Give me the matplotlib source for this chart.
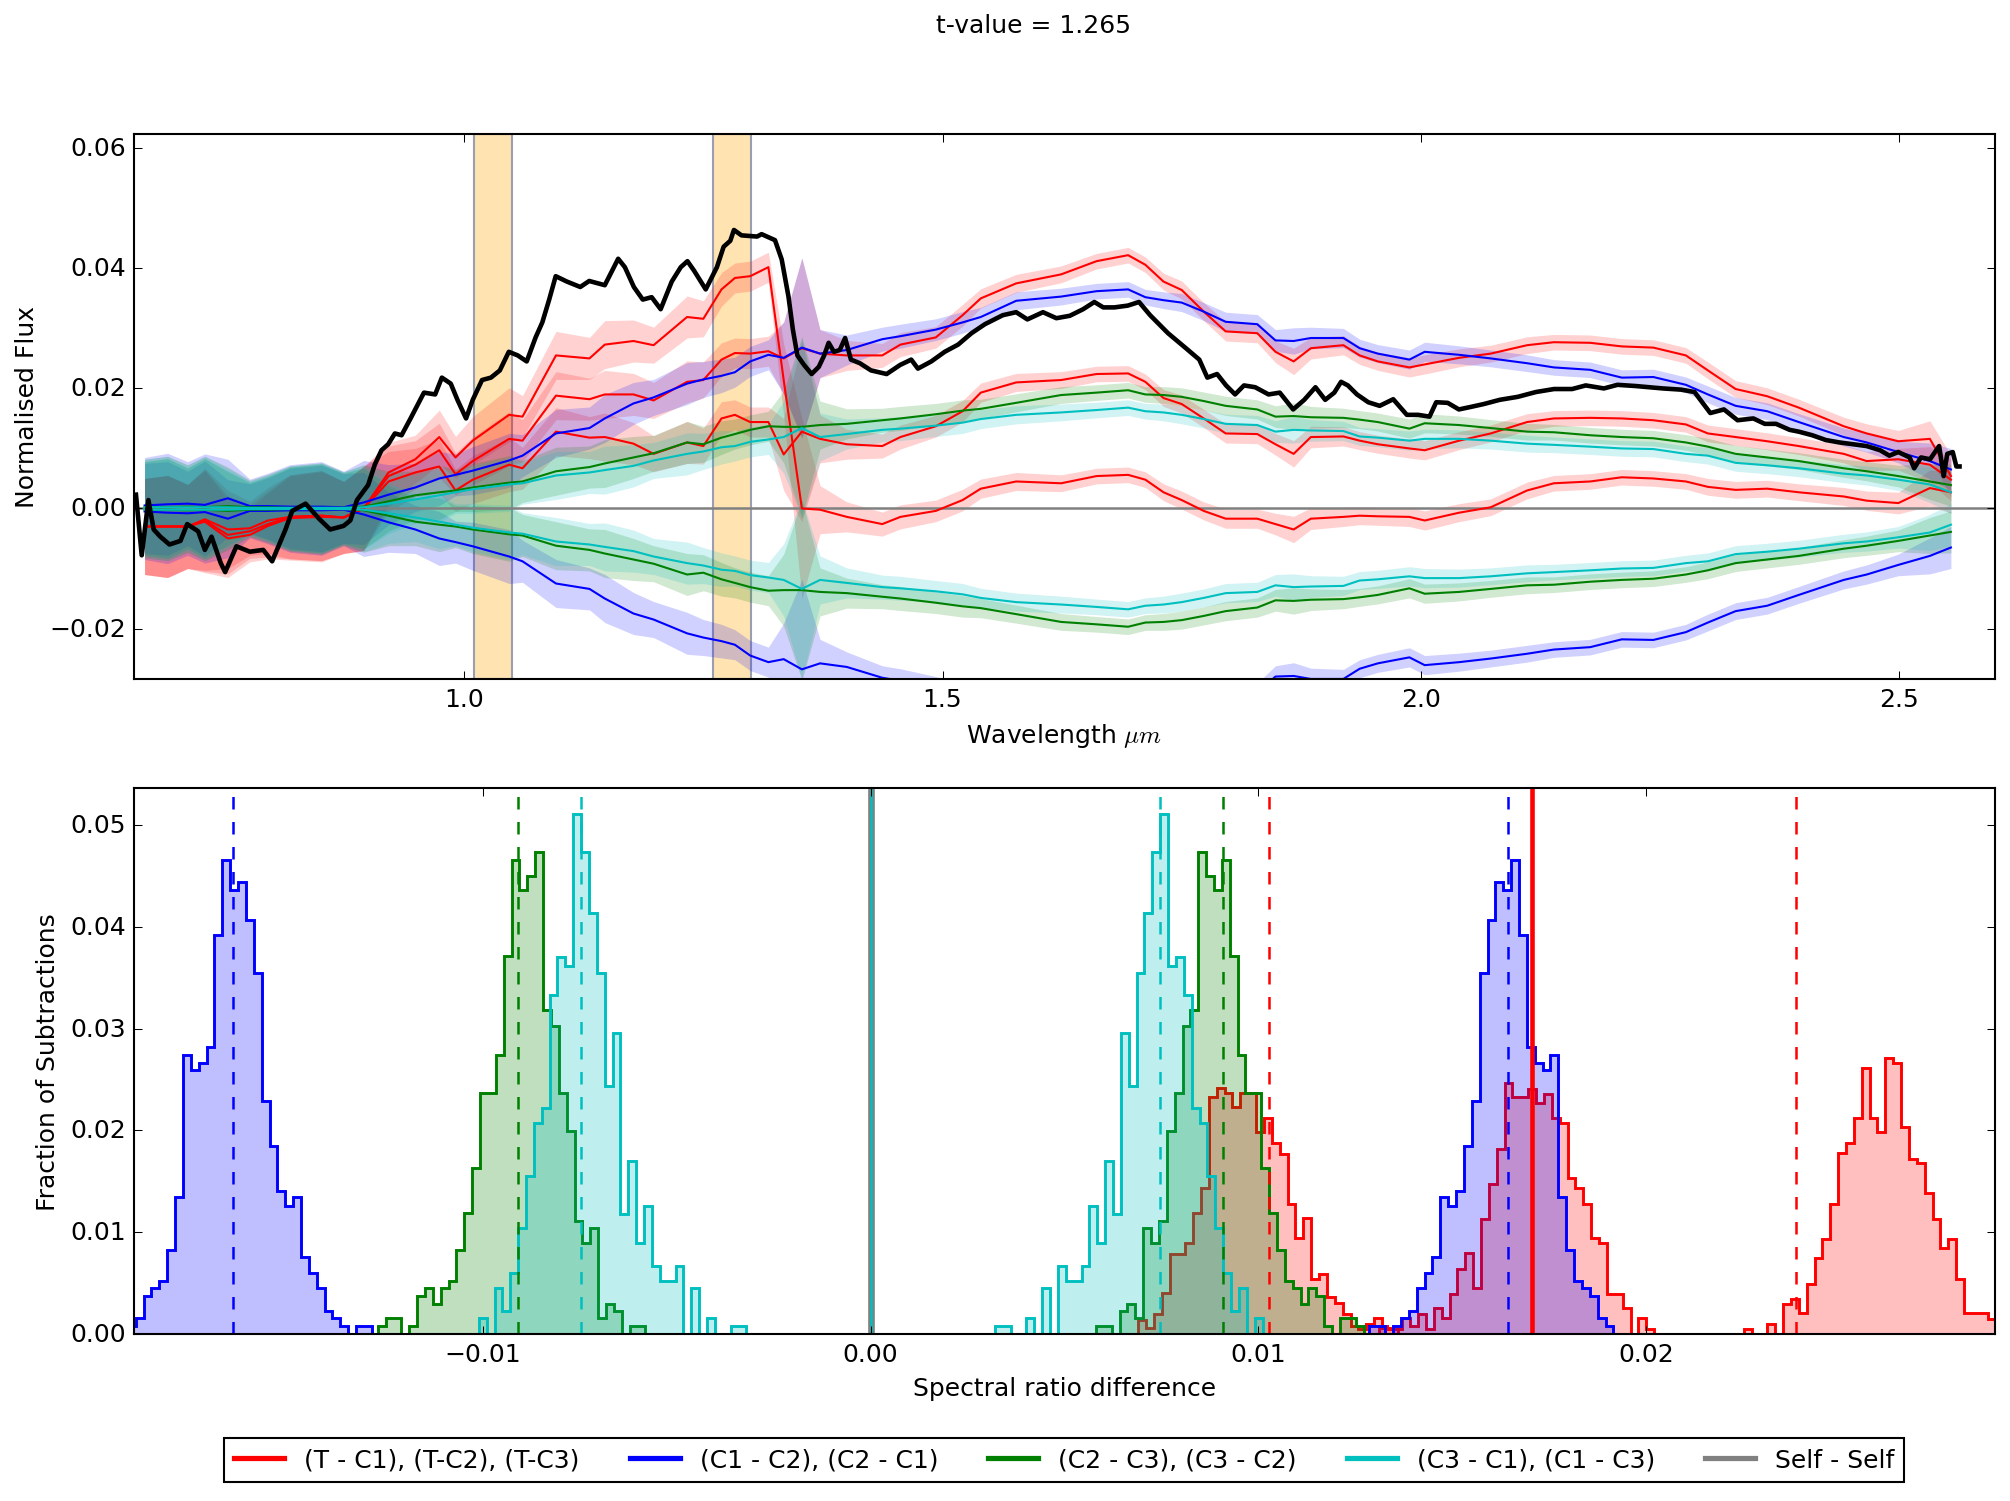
import numpy as np
import matplotlib
matplotlib.use("Agg")
import matplotlib.pyplot as plt
from matplotlib.lines import Line2D

plt.style.use('classic')
plt.rcParams['font.family'] = ['DejaVu Sans']
plt.rcParams['mathtext.fontset'] = 'cm'

t_value = 1.265

# ---------------- top panel: differences of normalised spectra ----------------
wl_grid = [0.666, 0.690, 0.711, 0.729, 0.753, 0.776, 0.795, 0.818, 0.851, 0.874,
           0.895, 0.921, 0.949, 0.974, 0.991, 1.009, 1.047, 1.061, 1.096, 1.131,
           1.147, 1.177, 1.198, 1.233, 1.250, 1.269, 1.283, 1.299, 1.318, 1.334,
           1.353, 1.372, 1.400, 1.437, 1.456, 1.493, 1.521, 1.540, 1.577, 1.624,
           1.661, 1.694, 1.712, 1.731, 1.750, 1.773, 1.796, 1.829, 1.848, 1.867,
           1.885, 1.919, 1.936, 1.955, 1.988, 2.004, 2.040, 2.073, 2.111, 2.139,
           2.177, 2.210, 2.243, 2.277, 2.300, 2.329, 2.362, 2.395, 2.442, 2.466,
           2.499, 2.532, 2.554]

# target minus comparison stars (three curves)
t_minus_a = [-0.0030, -0.0030, -0.0030, -0.0018, -0.0035, -0.0033, -0.0020, -0.0014, -0.0012, -0.0015,
             0.0000, 0.0060, 0.0082, 0.0119, 0.0085, 0.0113, 0.0156, 0.0153, 0.0255, 0.0250,
             0.0273, 0.0279, 0.0272, 0.0319, 0.0316, 0.0365, 0.0384, 0.0387, 0.0402, 0.0214,
             0.0000, -0.0002, -0.0014, -0.0026, -0.0014, -0.0004, 0.0014, 0.0033, 0.0045, 0.0042,
             0.0054, 0.0056, 0.0048, 0.0027, 0.0014, -0.0004, -0.0017, -0.0017, -0.0026, -0.0035,
             -0.0017, -0.0014, -0.0012, -0.0013, -0.0014, -0.0020, -0.0007, 0.0002, 0.0030, 0.0042,
             0.0045, 0.0052, 0.0050, 0.0045, 0.0036, 0.0031, 0.0033, 0.0027, 0.0020, 0.0013,
             0.0009, 0.0034, 0.0027]
t_minus_b = [-0.0030, -0.0030, -0.0030, -0.0020, -0.0044, -0.0038, -0.0026, -0.0014, -0.0012, -0.0015,
             0.0000, 0.0054, 0.0073, 0.0097, 0.0057, 0.0079, 0.0116, 0.0113, 0.0188, 0.0182,
             0.0190, 0.0190, 0.0180, 0.0211, 0.0214, 0.0248, 0.0259, 0.0258, 0.0262, 0.0250,
             0.0267, 0.0258, 0.0255, 0.0255, 0.0273, 0.0285, 0.0322, 0.0350, 0.0375, 0.0390,
             0.0412, 0.0422, 0.0406, 0.0378, 0.0364, 0.0328, 0.0295, 0.0292, 0.0261, 0.0245,
             0.0267, 0.0272, 0.0255, 0.0245, 0.0235, 0.0240, 0.0251, 0.0258, 0.0272, 0.0277,
             0.0276, 0.0270, 0.0268, 0.0255, 0.0230, 0.0199, 0.0187, 0.0168, 0.0137, 0.0125,
             0.0112, 0.0116, 0.0054]
t_minus_c = [-0.0030, -0.0030, -0.0030, -0.0022, -0.0050, -0.0044, -0.0029, -0.0016, -0.0014, -0.0015,
             0.0000, 0.0045, 0.0060, 0.0070, 0.0030, 0.0048, 0.0073, 0.0067, 0.0128, 0.0118,
             0.0119, 0.0108, 0.0091, 0.0110, 0.0104, 0.0150, 0.0156, 0.0144, 0.0144, 0.0090,
             0.0128, 0.0116, 0.0107, 0.0104, 0.0119, 0.0137, 0.0162, 0.0193, 0.0210, 0.0214,
             0.0224, 0.0225, 0.0211, 0.0184, 0.0174, 0.0150, 0.0125, 0.0124, 0.0107, 0.0091,
             0.0119, 0.0120, 0.0113, 0.0107, 0.0100, 0.0097, 0.0113, 0.0125, 0.0144, 0.0150,
             0.0151, 0.0150, 0.0147, 0.0140, 0.0125, 0.0119, 0.0112, 0.0104, 0.0091, 0.0079,
             0.0082, 0.0073, 0.0048]

# comparison pairs (the reversed pair is the negative)
c1_minus_c2 = [0.0005, 0.0007, 0.0008, 0.0006, 0.0017, 0.0004, 0.0004, 0.0003, 0.0003, 0.0002,
               0.0010, 0.0023, 0.0035, 0.0050, 0.0056, 0.0063, 0.0080, 0.0088, 0.0125, 0.0134,
               0.0150, 0.0175, 0.0185, 0.0208, 0.0215, 0.0221, 0.0227, 0.0245, 0.0256, 0.0251,
               0.0268, 0.0258, 0.0264, 0.0282, 0.0287, 0.0298, 0.0310, 0.0319, 0.0346, 0.0353,
               0.0362, 0.0365, 0.0352, 0.0347, 0.0343, 0.0328, 0.0311, 0.0307, 0.0280, 0.0279,
               0.0284, 0.0284, 0.0267, 0.0258, 0.0248, 0.0261, 0.0256, 0.0250, 0.0242, 0.0235,
               0.0231, 0.0218, 0.0219, 0.0206, 0.0190, 0.0171, 0.0162, 0.0144, 0.0119, 0.0110,
               0.0094, 0.0079, 0.0065]
c2_minus_c3 = [0.0002, 0.0002, 0.0003, 0.0002, 0.0004, 0.0002, 0.0002, 0.0001, 0.0001, 0.0001,
               0.0003, 0.0012, 0.0022, 0.0027, 0.0030, 0.0035, 0.0043, 0.0045, 0.0062, 0.0069,
               0.0075, 0.0085, 0.0092, 0.0110, 0.0107, 0.0118, 0.0124, 0.0131, 0.0137, 0.0136,
               0.0136, 0.0139, 0.0141, 0.0147, 0.0150, 0.0157, 0.0163, 0.0166, 0.0176, 0.0189,
               0.0193, 0.0197, 0.0190, 0.0189, 0.0186, 0.0179, 0.0171, 0.0165, 0.0153, 0.0154,
               0.0152, 0.0151, 0.0148, 0.0144, 0.0133, 0.0142, 0.0139, 0.0134, 0.0128, 0.0127,
               0.0122, 0.0119, 0.0117, 0.0110, 0.0103, 0.0091, 0.0085, 0.0079, 0.0067, 0.0062,
               0.0054, 0.0045, 0.0039]
c3_minus_c1 = [0.0002, 0.0002, 0.0002, 0.0002, 0.0002, 0.0001, 0.0001, 0.0001, 0.0001, 0.0001,
               0.0002, 0.0008, 0.0015, 0.0022, 0.0027, 0.0032, 0.0040, 0.0042, 0.0055, 0.0060,
               0.0064, 0.0071, 0.0080, 0.0091, 0.0095, 0.0102, 0.0104, 0.0111, 0.0115, 0.0119,
               0.0134, 0.0119, 0.0124, 0.0131, 0.0133, 0.0138, 0.0143, 0.0149, 0.0156, 0.0160,
               0.0164, 0.0168, 0.0162, 0.0160, 0.0156, 0.0149, 0.0141, 0.0139, 0.0128, 0.0131,
               0.0130, 0.0129, 0.0120, 0.0118, 0.0113, 0.0116, 0.0116, 0.0113, 0.0108, 0.0106,
               0.0103, 0.0100, 0.0099, 0.0091, 0.0088, 0.0076, 0.0072, 0.0067, 0.0058, 0.0055,
               0.0048, 0.0040, 0.0027]

flux_err = [0.0080, 0.0085, 0.0070, 0.0085, 0.0065, 0.0045, 0.0055, 0.0070, 0.0075, 0.0060,
            0.0070, 0.0050, 0.0040, 0.0045, 0.0035, 0.0040, 0.0045, 0.0035, 0.0040, 0.0035,
            0.0040, 0.0035, 0.0030, 0.0035, 0.0030, 0.0028, 0.0025, 0.0025, 0.0025, 0.0060,
            0.0150, 0.0040, 0.0025, 0.0020, 0.0020, 0.0018, 0.0018, 0.0016, 0.0015, 0.0014,
            0.0013, 0.0013, 0.0013, 0.0014, 0.0015, 0.0015, 0.0016, 0.0016, 0.0018, 0.0022,
            0.0018, 0.0016, 0.0015, 0.0015, 0.0016, 0.0016, 0.0015, 0.0014, 0.0014, 0.0013,
            0.0013, 0.0013, 0.0013, 0.0013, 0.0014, 0.0014, 0.0014, 0.0014, 0.0015, 0.0016,
            0.0018, 0.0030, 0.0035]

# observed spectrum difference (black)
obs_wl = [0.657, 0.663, 0.670, 0.6755, 0.6825, 0.692, 0.7035, 0.7105, 0.722, 0.729,
          0.736, 0.7456, 0.7502, 0.762, 0.776, 0.790, 0.7993, 0.8133, 0.8203, 0.8343,
          0.8483, 0.860, 0.874, 0.881, 0.888, 0.8996, 0.9066, 0.9136, 0.9206, 0.9276,
          0.9346, 0.944, 0.958, 0.9697, 0.9767, 0.986, 0.993, 1.002, 1.009, 1.0187,
          1.028, 1.0373, 1.0467, 1.056, 1.0654, 1.0747, 1.0817, 1.0887, 1.0957, 1.1074,
          1.1214, 1.1307, 1.147, 1.161, 1.168, 1.1774, 1.1867, 1.196, 1.2054, 1.217,
          1.2264, 1.2334, 1.2404, 1.2525, 1.2642, 1.2712, 1.2782, 1.282, 1.2899, 1.3062,
          1.3109, 1.3249, 1.3319, 1.339, 1.3436, 1.3483, 1.3553, 1.3632, 1.3707, 1.3763,
          1.381, 1.3865, 1.3926, 1.3982, 1.4043, 1.4136, 1.4253, 1.4416, 1.4556, 1.4673,
          1.4743, 1.4883, 1.5023, 1.5163, 1.5303, 1.5443, 1.563, 1.577, 1.5887, 1.605,
          1.619, 1.633, 1.647, 1.6587, 1.668, 1.6797, 1.6937, 1.7054, 1.717, 1.7357,
          1.7544, 1.7684, 1.7768, 1.787, 1.7964, 1.8058, 1.8151, 1.8268, 1.8408, 1.8525,
          1.8665, 1.8781, 1.8898, 1.900, 1.9095, 1.9166, 1.9237, 1.9332, 1.945, 1.9569,
          1.9711, 1.9853, 1.9971, 2.009, 2.016, 2.028, 2.0397, 2.0516, 2.0658, 2.0824,
          2.1013, 2.1202, 2.1392, 2.1581, 2.1723, 2.1913, 2.2055, 2.2244, 2.2386, 2.2528,
          2.2718, 2.2860, 2.2954, 2.3025, 2.3168, 2.331, 2.3475, 2.3594, 2.3712, 2.3854,
          2.3949, 2.4091, 2.4233, 2.4375, 2.4517, 2.4659, 2.4801, 2.4896, 2.499, 2.5109,
          2.5156, 2.5227, 2.5322, 2.5417, 2.5464, 2.5502, 2.5559, 2.5597, 2.563]
obs_flux = [0.0023, -0.0078, 0.0014, -0.0035, -0.0047, -0.0060, -0.0054, -0.0026, -0.0038, -0.0069,
            -0.0047, -0.0091, -0.0106, -0.0063, -0.0072, -0.0069, -0.0088, -0.0035, -0.0004, 0.0008,
            -0.0017, -0.0035, -0.0029, -0.0020, 0.0014, 0.0039, 0.0073, 0.0097, 0.0107, 0.0125,
            0.0122, 0.0150, 0.0193, 0.0190, 0.0218, 0.0208, 0.0181, 0.0150, 0.0181, 0.0214,
            0.0218, 0.0230, 0.0261, 0.0255, 0.0245, 0.0285, 0.0310, 0.0347, 0.0387, 0.0378,
            0.0369, 0.0379, 0.0372, 0.0416, 0.0402, 0.0369, 0.0348, 0.0352, 0.0332, 0.0378,
            0.0402, 0.0412, 0.0396, 0.0365, 0.0402, 0.0436, 0.0446, 0.0464, 0.0455, 0.0453,
            0.0457, 0.0447, 0.0415, 0.0353, 0.0298, 0.0255, 0.0239, 0.0224, 0.0236, 0.0255,
            0.0276, 0.0261, 0.0264, 0.0284, 0.0248, 0.0242, 0.0230, 0.0224, 0.0239, 0.0248,
            0.0233, 0.0245, 0.0261, 0.0273, 0.0292, 0.0307, 0.0322, 0.0327, 0.0315, 0.0327,
            0.0317, 0.0321, 0.0332, 0.0344, 0.0335, 0.0335, 0.0338, 0.0344, 0.0322, 0.0292,
            0.0267, 0.0248, 0.0218, 0.0224, 0.0205, 0.0190, 0.0205, 0.0202, 0.0190, 0.0193,
            0.0165, 0.0181, 0.0202, 0.0181, 0.0193, 0.0211, 0.0205, 0.0190, 0.0177, 0.0171,
            0.0182, 0.0156, 0.0156, 0.0153, 0.0177, 0.0176, 0.0165, 0.0169, 0.0174, 0.0181,
            0.0186, 0.0194, 0.0199, 0.0199, 0.0205, 0.0200, 0.0206, 0.0204, 0.0202, 0.0200,
            0.0198, 0.0194, 0.0174, 0.0159, 0.0165, 0.0147, 0.0150, 0.0141, 0.0141, 0.0131,
            0.0128, 0.0122, 0.0114, 0.0110, 0.0107, 0.0104, 0.0097, 0.0088, 0.0094, 0.0085,
            0.0067, 0.0085, 0.0082, 0.0104, 0.0054, 0.0091, 0.0094, 0.0070, 0.0070]

ratio_bands = [(1.01, 1.05), (1.26, 1.30)]

# ---------------- bottom panel: histograms of spectral ratio differences ----------------
bin_width = 0.000203

c2_c1_start = -0.01916
c2_c1_frac = [0.0008, 0.0015, 0.0037, 0.0045, 0.0052, 0.0082, 0.0134, 0.0274, 0.0259, 0.0266,
              0.0282, 0.0392, 0.0466, 0.0436, 0.0444, 0.0407, 0.0355, 0.0229, 0.0185, 0.0140,
              0.0126, 0.0134, 0.0075, 0.0060, 0.0045, 0.0022, 0.0015, 0.0008, 0.0, 0.0008,
              0.0008]

c3_c2_start = -0.012713
c3_c2_frac = [0.0008, 0.0015, 0.0015, 0.0, 0.0008, 0.0037, 0.0045, 0.0029, 0.0045, 0.0052,
              0.0082, 0.0119, 0.0163, 0.0237, 0.0237, 0.0274, 0.0371, 0.0466, 0.0436, 0.0450,
              0.0474, 0.0318, 0.0303, 0.0237, 0.0199, 0.0111, 0.0089, 0.0104, 0.0015, 0.0029,
              0.0022, 0.0, 0.0008, 0.0008]

c1_c3_start = -0.010108
c1_c3_frac = [0.0015, 0.0, 0.0045, 0.0022, 0.0060, 0.0104, 0.0155, 0.0207, 0.0222, 0.0333,
              0.0370, 0.0362, 0.0511, 0.0474, 0.0414, 0.0355, 0.0244, 0.0296, 0.0118, 0.0170,
              0.0089, 0.0126, 0.0067, 0.0052, 0.0052, 0.0067, 0.0, 0.0045, 0.0, 0.0015,
              0.0, 0.0, 0.0008, 0.0008]

t_c_starts = [0.006897, 0.013105, 0.022520]
t_c1_frac = [0.0013, 0.0006, 0.0019, 0.0040, 0.0078, 0.0078, 0.0089, 0.0119, 0.0143, 0.0233,
             0.0242, 0.0237, 0.0223, 0.0237, 0.0237, 0.0198, 0.0212, 0.0188, 0.0177, 0.0128,
             0.0094, 0.0114, 0.0054, 0.0059, 0.0036, 0.0030, 0.0019, 0.0008, 0.0005, 0.0010,
             0.0015, 0.0006, 0.0005]
t_c2_frac = [0.0008, 0.0005, 0.0005, 0.0015, 0.0008, 0.0019, 0.0005, 0.0025, 0.0015, 0.0039,
             0.0064, 0.0079, 0.0045, 0.0113, 0.0147, 0.0182, 0.0247, 0.0233, 0.0233, 0.0241,
             0.0227, 0.0236, 0.0212, 0.0207, 0.0153, 0.0143, 0.0128, 0.0094, 0.0089, 0.0039,
             0.0039, 0.0025, 0.0, 0.0015, 0.0005]
t_c3_frac = [0.0005, 0.0, 0.0, 0.0010, 0.0, 0.0029, 0.0034, 0.0020, 0.0049, 0.0074,
             0.0093, 0.0128, 0.0178, 0.0188, 0.0212, 0.0261, 0.0212, 0.0198, 0.0271, 0.0266,
             0.0203, 0.0172, 0.0168, 0.0138, 0.0113, 0.0084, 0.0093, 0.0054, 0.0020, 0.0020,
             0.0020, 0.0014]

pair_means = [0.01644, 0.00909, 0.00746]     # blue, green, cyan (± symmetric)
t_c_means = [0.01028, 0.02387]
observed_ratio = 0.01707

legend_labels = ['(T - C1), (T-C2), (T-C3)', '(C1 - C2), (C2 - C1)',
                 '(C2 - C3), (C3 - C2)', '(C3 - C1), (C1 - C3)', 'Self - Self']


def draw_band(ax, wl, y, err, color):
    y = np.asarray(y)
    err = np.asarray(err)
    ax.fill_between(wl, y - err, y + err, color=color, alpha=0.18, lw=0)
    ax.plot(wl, y, color=color, lw=1)


def draw_hist(ax, start, fracs, color, mirror=False):
    vals = np.asarray(fracs)
    edges = start + bin_width * np.arange(len(vals) + 1)
    if mirror:
        edges = -edges[::-1]
        vals = vals[::-1]
    ax.stairs(vals, edges, fill=True, color=color, alpha=0.25, lw=0)
    ax.stairs(vals, edges, color=color, lw=1.4)


fig = plt.figure(figsize=(13.4, 10.0133), dpi=150)
fig.patch.set_facecolor('white')
ax1 = fig.add_axes([0.0667, 0.5475, 0.9258, 0.3628])
ax2 = fig.add_axes([0.0667, 0.1114, 0.9258, 0.3635])

# top panel
for lo, hi in ratio_bands:
    ax1.axvspan(lo, hi, facecolor=(1.0, 0.65, 0.0, 0.3), edgecolor='#9a9eb0', lw=1)
ax1.axhline(0, color='gray', lw=1.2)

wl = np.asarray(wl_grid)
for series in (t_minus_a, t_minus_b, t_minus_c):
    draw_band(ax1, wl, series, flux_err, 'r')
for series, color in ((c1_minus_c2, 'b'), (c2_minus_c3, 'g'), (c3_minus_c1, 'c')):
    draw_band(ax1, wl, series, flux_err, color)
    draw_band(ax1, wl, -np.asarray(series), flux_err, color)

ax1.plot(obs_wl, obs_flux, color='k', lw=2.2)

ax1.set_xlim(0.655, 2.600)
ax1.set_ylim(-0.02835, 0.06243)
ax1.set_xticks([1.0, 1.5, 2.0, 2.5])
ax1.set_yticks([-0.02, 0.0, 0.02, 0.04, 0.06])
ax1.set_xlabel('Wavelength $\\mu m$')
ax1.set_ylabel('Normalised Flux')

# bottom panel
for start, fracs in zip(t_c_starts, (t_c1_frac, t_c2_frac, t_c3_frac)):
    draw_hist(ax2, start, fracs, 'r')
for start, fracs, color in ((c2_c1_start, c2_c1_frac, 'b'),
                            (c3_c2_start, c3_c2_frac, 'g'),
                            (c1_c3_start, c1_c3_frac, 'c')):
    draw_hist(ax2, start, fracs, color)
    draw_hist(ax2, start, fracs, color, mirror=True)

ax2.axvline(0, color='gray', lw=3.2)
ax2.axvline(0, color='c', lw=1.2)

for m, color in zip(pair_means, ('b', 'g', 'c')):
    ax2.axvline(-m, color=color, ls='--', lw=1.2)
    ax2.axvline(m, color=color, ls='--', lw=1.2)
for m in t_c_means:
    ax2.axvline(m, color='r', ls='--', lw=1.2)
ax2.axvline(observed_ratio, color='r', lw=2.2)

ax2.set_xlim(-0.0190, 0.0290)
ax2.set_ylim(0, 0.0537)
ax2.set_xticks([-0.01, 0.0, 0.01, 0.02])
ax2.set_yticks([0.0, 0.01, 0.02, 0.03, 0.04, 0.05])
ax2.set_xlabel('Spectral ratio difference')
ax2.set_ylabel('Fraction of Subtractions')

handles = [Line2D([], [], color=c, lw=2.5) for c in ('r', 'b', 'g', 'c', 'gray')]
ax2.legend(handles, legend_labels, loc='upper center', bbox_to_anchor=(0.5, -0.168),
           ncol=5, fontsize=12, numpoints=1, handlelength=2.0)

fig.text(0.514, 0.983, 't-value = %.3f' % t_value, ha='center', va='center', fontsize=12)

fig.savefig('out.png', dpi=150, facecolor='white')
